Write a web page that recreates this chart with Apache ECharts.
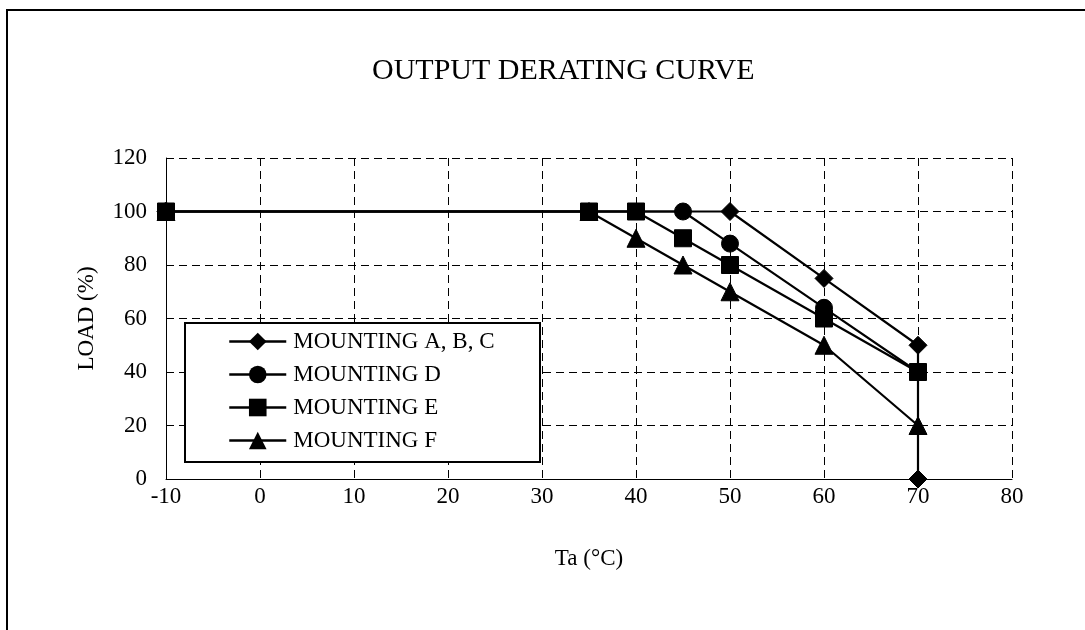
<!DOCTYPE html>
<html>
<head>
<meta charset="utf-8">
<script src="https://cdn.jsdelivr.net/npm/echarts@6/dist/echarts.min.js"></script>
<style>
html,body{margin:0;padding:0;background:#fff;}
#chart{width:1085px;height:630px;}
</style>
</head>
<body>
<div id="chart"></div>
<script>
// ---- data ----
const titleText = 'OUTPUT DERATING CURVE';
const xName = 'Ta (°C)';
const yName = 'LOAD (%)';
const seriesNames = ['MOUNTING A, B, C', 'MOUNTING D', 'MOUNTING E', 'MOUNTING F'];
const mountABC_x = [-10, 50, 60, 70, 70];
const mountABC_y = [100, 100, 75, 50, 0];
const mountD_x = [-10, 45, 50, 60, 70];
const mountD_y = [100, 100, 88, 64, 40];
const mountE_x = [-10, 35, 40, 45, 50, 60, 70];
const mountE_y = [100, 100, 100, 90, 80, 60, 40];
const mountF_x = [-10, 35, 40, 45, 50, 60, 70];
const mountF_y = [100, 100, 90, 80, 70, 50, 20];
const xMin = -10, xMax = 80, xStep = 10;
const yMin = 0, yMax = 120, yStep = 20;

const FONT = '"Liberation Serif", "Times New Roman", serif';
const pair = (xs, ys) => xs.map((x, i) => [x, ys[i]]);

const symbols = ['diamond', 'circle', 'rect', 'triangle'];
const symSizes = [18, 17, 17, 18];
const xsAll = [mountABC_x, mountD_x, mountE_x, mountF_x];
const ysAll = [mountABC_y, mountD_y, mountE_y, mountF_y];

const chart = echarts.init(document.getElementById('chart'), null, {renderer: 'canvas'});
const option = {
  backgroundColor: '#fff',
  animation: false,
  title: {
    text: titleText,
    left: 367, top: 51,
    textStyle: {fontFamily: FONT, fontSize: 30, fontWeight: 'normal', color: '#000'}
  },
  grid: {left: 166, right: 73, top: 158, bottom: 151, containLabel: false},
  xAxis: {
    type: 'value', min: xMin, max: xMax, interval: xStep,
    name: xName, nameLocation: 'middle', nameGap: 68,
    nameTextStyle: {fontFamily: FONT, fontSize: 23, color: '#000'},
    axisLine: {show: true, onZero: false, lineStyle: {color: '#000', width: 1}},
    axisTick: {show: false},
    axisLabel: {fontFamily: FONT, fontSize: 23, color: '#000', margin: 6},
    splitLine: {show: true, lineStyle: {color: '#000', width: 1, type: [8, 5]}}
  },
  yAxis: {
    type: 'value', min: yMin, max: yMax, interval: yStep,
    name: yName, nameLocation: 'middle', nameGap: 68, nameRotate: 90,
    nameTextStyle: {fontFamily: FONT, fontSize: 23, color: '#000'},
    axisLine: {show: true, onZero: false, lineStyle: {color: '#000', width: 1}},
    axisTick: {show: false},
    axisLabel: {fontFamily: FONT, fontSize: 23, color: '#000', margin: 19},
    splitLine: {show: true, lineStyle: {color: '#000', width: 1, type: [8, 5]}}
  },
  legend: {
    orient: 'vertical',
    left: 228, top: 330,
    padding: 0,
    itemWidth: 57, itemHeight: 22, itemGap: 10,
    z: 10,
    lineStyle: {width: 2.5, color: '#000'},
    textStyle: {fontFamily: FONT, fontSize: 23, lineHeight: 23, color: '#000', padding: [0, 0, 0, 2]},
    data: seriesNames
  },
  graphic: [
    {type: 'rect', z: 5, shape: {x: 185, y: 323, width: 355, height: 139},
     style: {fill: '#fff', stroke: '#000', lineWidth: 2}},
    {type: 'rect', z: 5, shape: {x: 7, y: 10, width: 1200, height: 800},
     style: {fill: 'none', stroke: '#000', lineWidth: 2}}
  ],
  series: seriesNames.map((name, i) => ({
    name: name,
    type: 'line',
    data: pair(xsAll[i], ysAll[i]),
    symbol: symbols[i],
    symbolSize: symSizes[i],
    showAllSymbol: true,
    clip: false,
    lineStyle: {color: '#000', width: 2.2},
    itemStyle: {color: '#000', borderColor: '#000'},
    z: 2 + i
  }))
};
chart.setOption(option);
</script>
</body>
</html>
